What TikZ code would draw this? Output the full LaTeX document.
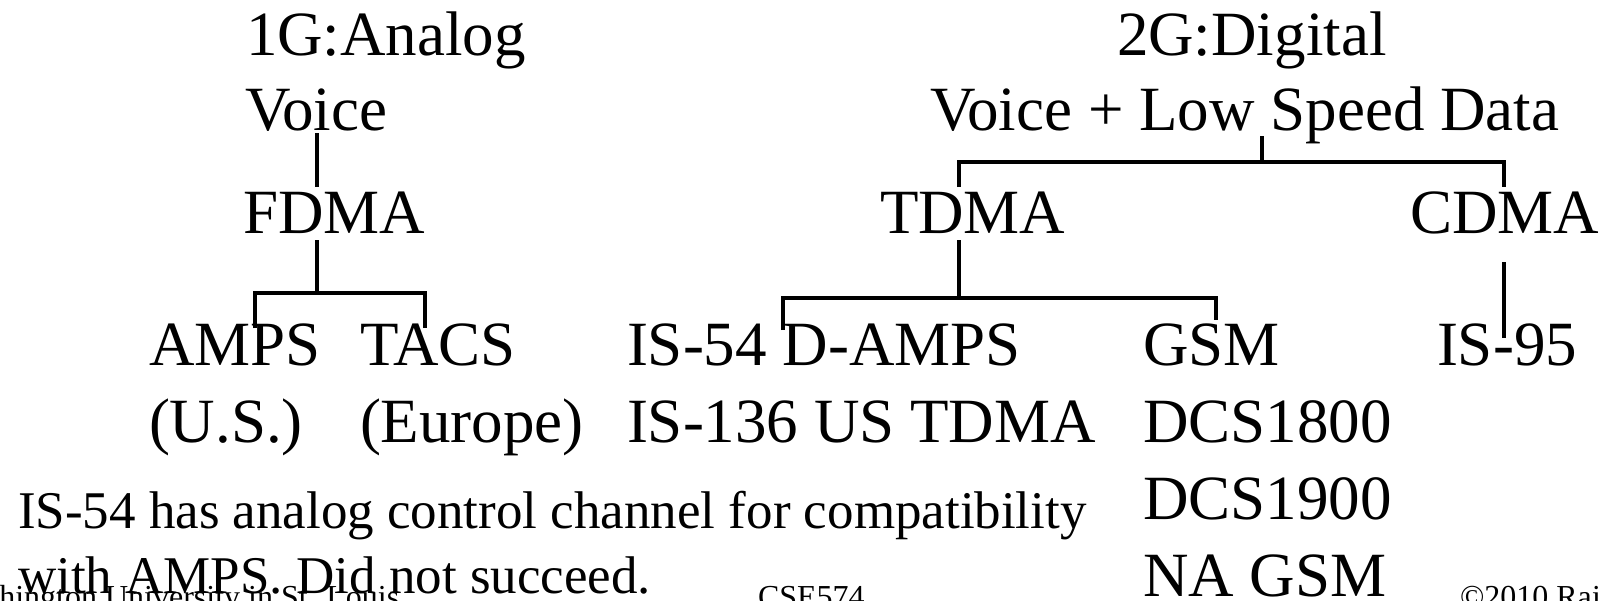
\documentclass[tikz,border=0pt]{standalone}
\usepackage{fontspec}
\setmainfont{Liberation Serif}
\begin{document}
\begin{tikzpicture}[x=1pt,y=-1pt,
  big/.style={anchor=base west,inner sep=0pt,outer sep=0pt,font=\fontsize{63}{63}\selectfont},
  note/.style={anchor=base west,inner sep=0pt,outer sep=0pt,font=\fontsize{53}{53}\selectfont},
  foot/.style={anchor=base west,inner sep=0pt,outer sep=0pt,font=\fontsize{32}{32}\selectfont},
  wire/.style={line width=4pt,line cap=butt},
  thin wire/.style={line width=3.5pt}]
\useasboundingbox (0,0) rectangle (1612,600);
% left tree
\node[big] (g1) at (246,55) {1G:Analog};
\node[big] (v1) at (245,130) {Voice};
\node[big] (fdma) at (243,233) {FDMA};
\node[big] (amps) at (149,365) {AMPS};
\node[big] (tacs) at (360,365) {TACS};
\node[big] (us) at (149,442) {(U.S.)};
\node[big] (eu) at (360,442) {(Europe)};
% right tree
\node[big] (g2) at (1117,55) {2G:Digital};
\node[big] (v2) at (930,130) {Voice + Low Speed Data};
\node[big] (tdma) at (880,233) {TDMA};
\node[big] (cdma) at (1410,233) {CDMA};
\node[big] (is54) at (627,365) {IS-54 D-AMPS};
\node[big] (is136) at (627,442) {IS-136 US TDMA};
\node[big] (gsm) at (1143,365) {GSM};
\node[big] (dcs18) at (1143,442) {DCS1800};
\node[big] (dcs19) at (1143,519) {DCS1900};
\node[big] (nagsm) at (1143,596) {NA GSM};
\node[big] (is95) at (1437,365) {IS-95};
% note
\node[note] (n1) at (18,528) {IS-54 has analog control channel for compatibility};
\node[note] (n2) at (18,593) {with AMPS. Did not succeed.};
% footer
\node[foot] (f1) at (-55,607) {Washington University in St. Louis};
\node[foot] (f2) at (758,607) {CSE574};
\node[foot] (f3) at (1460,607) {\char"00A9 2010 Raj Jain};
% connector coordinates
\coordinate (v1b) at (317,133);
\coordinate (fdmat) at (317,187);
\coordinate (fdmab) at (317,240);
\coordinate (fj) at (317,293);
\coordinate (ampst) at (255,328);
\coordinate (tacst) at (425,328);
\coordinate (v2b) at (1262,136);
\coordinate (vj) at (1262,162);
\coordinate (tdmat) at (959,187);
\coordinate (cdmat) at (1504,187);
\coordinate (tdmab) at (959,240);
\coordinate (tj) at (959,298);
\coordinate (is54t) at (783,330);
\coordinate (gsmt) at (1216,320);
\coordinate (cdmab) at (1504,262);
\coordinate (is95t) at (1504,338);
% connectors
\draw[thin wire] (v1b) -- (fdmat);
\draw[wire] (fdmab) -- (fj);
\draw[wire] (ampst) |- (fj) -| (tacst);
\draw[thin wire] (v2b) -- (vj);
\draw[wire] (tdmat) |- (vj) -| (cdmat);
\draw[wire] (tdmab) -- (tj);
\draw[wire] (is54t) |- (tj) -| (gsmt);
\draw[thin wire] (cdmab) -- (is95t);
\end{tikzpicture}
\end{document}
